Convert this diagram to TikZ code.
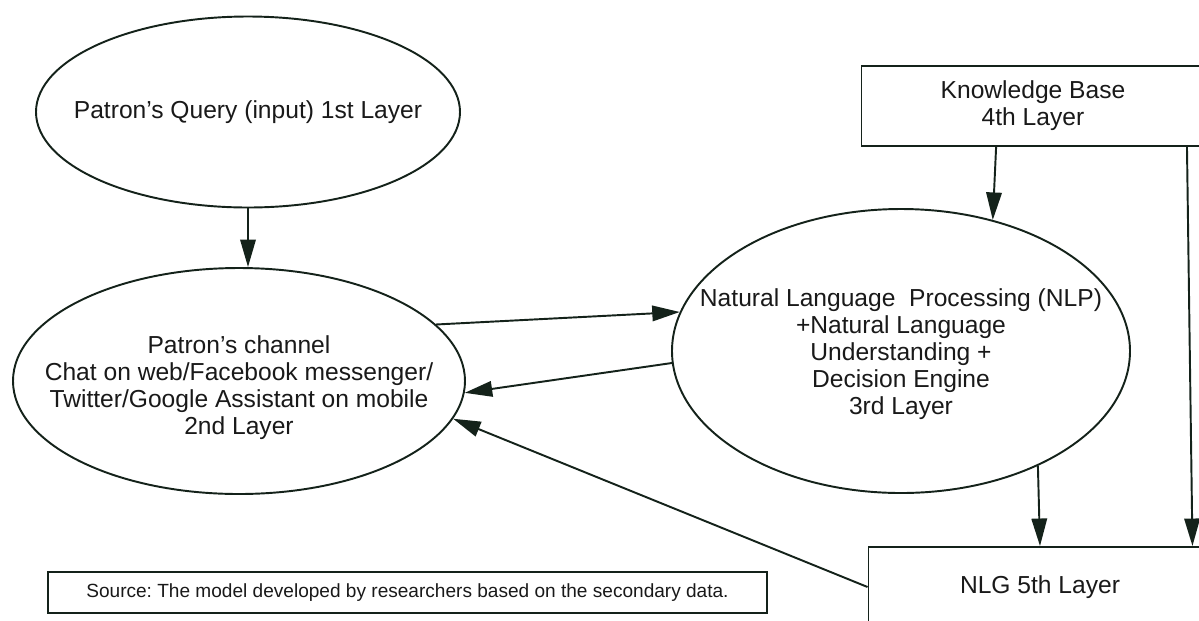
\documentclass[tikz,border=0pt]{standalone}
\usepackage{fontspec}
\setmainfont{Liberation Sans}
\usetikzlibrary{arrows.meta,shapes.geometric}
\definecolor{ink}{HTML}{14221A}
\frenchspacing

\begin{document}
\begin{tikzpicture}[>={Triangle[length=.55cm,width=.31cm]},line width=1.1pt,draw=ink,
 el/.style={draw,ellipse,inner sep=0pt},
 txt/.style={align=center,text=black!90,font=\fontsize{14}{15.4}\selectfont},
 bx/.style={draw,txt,minimum width=6.86cm,minimum height=1.6cm,inner sep=0pt}]
\useasboundingbox (0,0) rectangle (23.98,-12.4);
% Layers 1 to 3 as ellipses.
\node[el,minimum width=8.48cm,minimum height=3.82cm,
 label={[txt]center:Patron’s Query (input) 1st Layer}] (q1) at (4.96,-2.24) {};
\node[el,minimum width=9.04cm,minimum height=4.52cm,
 label={[txt,yshift=-.13cm]center:Patron’s channel\\Chat on web/Facebook messenger/\\Twitter/Google Assistant on mobile\\2nd Layer}] (ch) at (4.78,-7.62) {};
\node[el,minimum width=9.16cm,minimum height=5.68cm,
 label={[txt,yshift=-.06cm]center:Natural Language\ \ Processing (NLP)\\+Natural Language\\Understanding +\\Decision Engine\\3rd Layer}] (nlp) at (18.02,-7.02) {};
% Layers 4 and 5 as boxes, running off the right edge.
\node[bx] (kb) at (20.66,-2.12) {Knowledge Base\\4th Layer};
\node[bx] (nlg) at (20.8,-11.74) {NLG 5th Layer};
\node[draw,line width=1.6pt,minimum width=14.38cm,minimum height=.82cm,inner sep=0pt,
 text=black!90,font=\fontsize{10.85}{12}\selectfont] (src) at (8.15,-11.85)
 {Source: The model developed by researchers based on the secondary data.};
\draw[->] (q1.south) -- (q1.south |- ch.north);
\draw[->] (ch.16.5) -- (nlp.170);
\draw[->] (nlp.183) -- (ch.-3);
\draw[->] (kb.228) -- (nlp.55);
\draw[->] ([xshift=-.37cm]kb.south east) -- ([xshift=-.4cm]nlg.north east);
\draw[->] (nlp.-40) -- (nlg.north);
\draw[->] (nlg.west) -- (ch.-10.8);
\end{tikzpicture}
\end{document}
